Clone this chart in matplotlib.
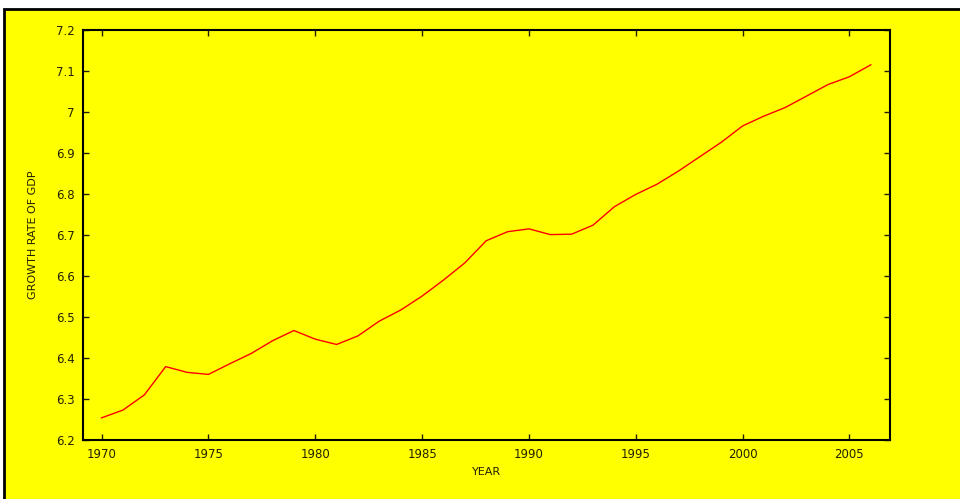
import matplotlib
matplotlib.use("Agg")
import matplotlib.pyplot as plt
from matplotlib.patches import Rectangle

# values
years = list(range(1970, 2007))
gdp_growth = [6.254, 6.273, 6.310, 6.379, 6.365, 6.360, 6.386, 6.411, 6.442, 6.467,
              6.446, 6.433, 6.454, 6.490, 6.517, 6.551, 6.590, 6.632, 6.686, 6.708,
              6.715, 6.701, 6.702, 6.724, 6.769, 6.799, 6.824, 6.856, 6.891, 6.926,
              6.966, 6.990, 7.011, 7.039, 7.067, 7.086, 7.115]
x_ticks = [1970, 1975, 1980, 1985, 1990, 1995, 2000, 2005]
y_ticks = [6.2, 6.3, 6.4, 6.5, 6.6, 6.7, 6.8, 6.9, 7.0, 7.1, 7.2]
y_labels = ["6.2", "6.3", "6.4", "6.5", "6.6", "6.7", "6.8", "6.9", "7", "7.1", "7.2"]

W, H = 960, 499
fig = plt.figure(figsize=(W / 100, H / 100), dpi=100, facecolor="white")

# yellow panel with black frame, cut off at right and bottom
fig.patches.append(Rectangle((4 / W, -0.05), 1.1, (H - 9) / H + 0.05,
                             transform=fig.transFigure, facecolor="#ffff00",
                             edgecolor="black", linewidth=2, zorder=-10))

ax = fig.add_axes([83 / W, 1 - 440 / H, (890 - 83) / W, (440 - 30) / H])
ax.set_zorder(1)
ax.set_facecolor("#ffff00")
ax.plot(years, gdp_growth, color="red", linewidth=1)

ax.set_xlim(1969.13, 2006.9)
ax.set_ylim(6.2, 7.2)
ax.set_xticks(x_ticks)
ax.set_yticks(y_ticks)
ax.set_yticklabels(y_labels)
ax.tick_params(direction="in", length=4, width=1, top=True, right=True,
               labelsize=8.5, colors="#222200", pad=6)
for s in ax.spines.values():
    s.set_linewidth(1.5)

ax.set_xlabel("YEAR", fontsize=8, labelpad=4, color="#222200")
ax.set_ylabel("GROWTH RATE OF GDP", fontsize=8, labelpad=13, color="#222200")

fig.savefig("out.png", dpi=100)
